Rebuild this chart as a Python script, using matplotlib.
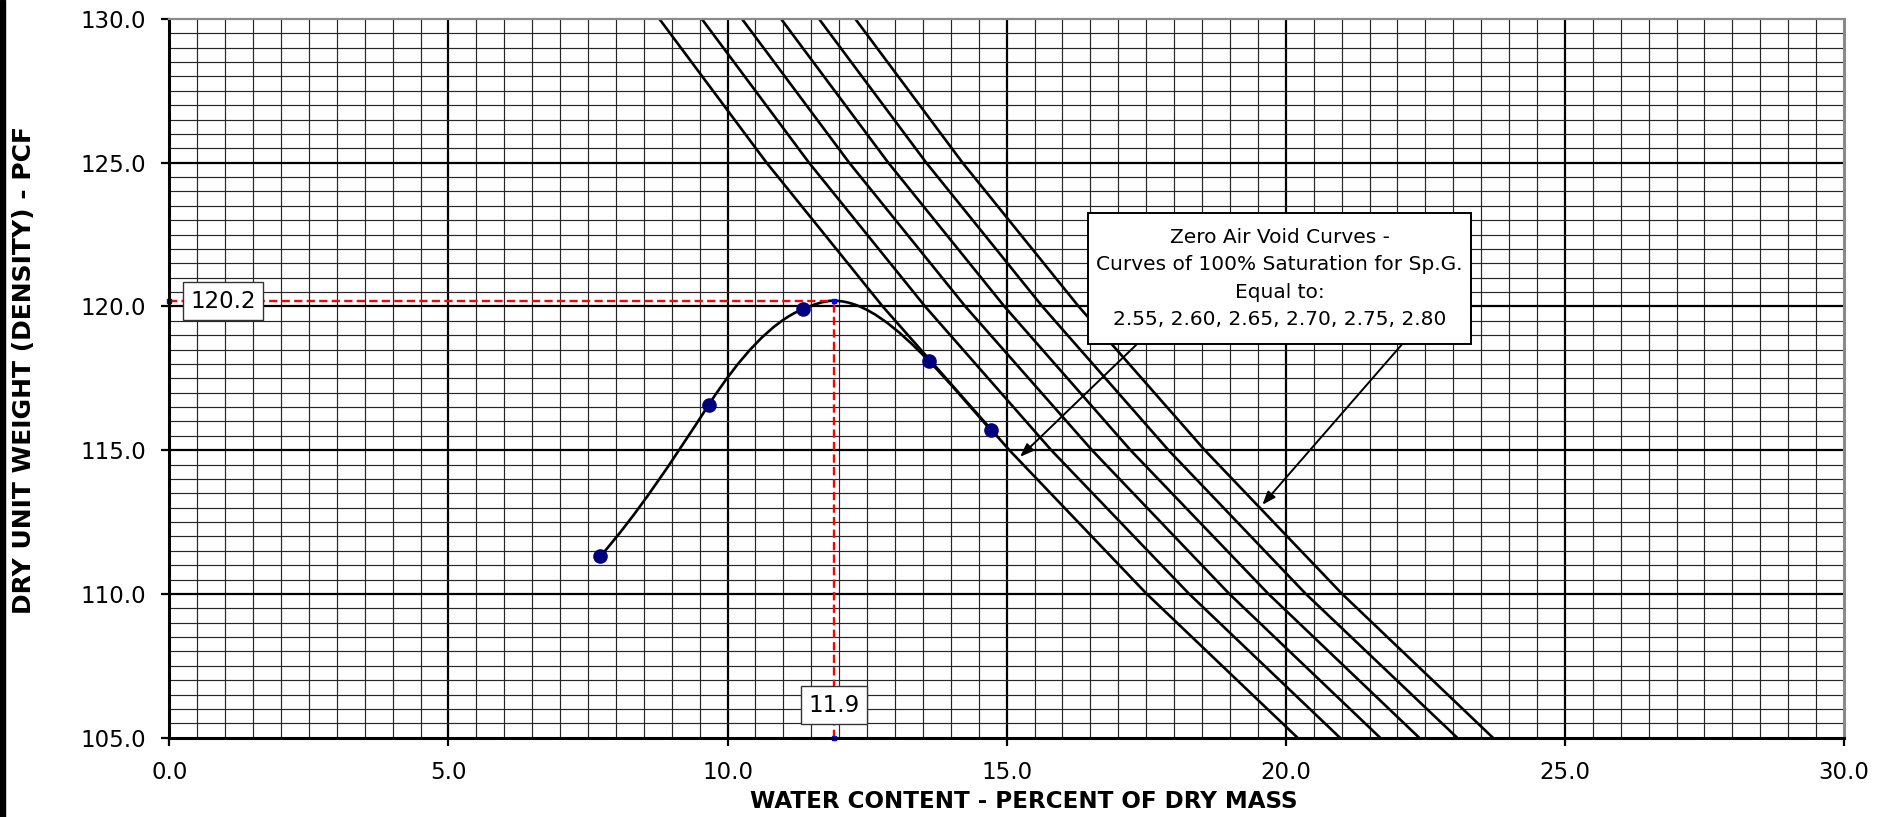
import matplotlib
matplotlib.use("Agg")
import matplotlib.pyplot as plt
from matplotlib.path import Path
from matplotlib.patches import PathPatch, Rectangle
import numpy as np

# test points (water content %, dry unit weight pcf)
water_content = [7.72, 9.66, 11.35, 13.61, 14.72]
dry_density = [111.31, 116.57, 119.91, 118.10, 115.69]

# optimum moisture / max dry density
opt_moisture = 11.9
max_density = 120.2

# curve knots (test points plus the peak) and slopes
curve_x = [7.72, 9.66, 11.35, 11.9, 13.61, 14.72]
curve_y = [111.31, 116.57, 119.91, 120.2, 118.10, 115.69]
curve_slope = [2.2, 3.0, 0.8, 0.0, -2.0, -2.2]

# zero air void curves: water content read at each density level
zav_density = [105, 110, 115, 120, 125, 130]
zav_water = {
    "2.55": [20.21, 17.51, 15.05, 12.78, 10.70, 8.78],
    "2.60": [20.97, 18.27, 15.80, 13.54, 11.46, 9.54],
    "2.65": [21.69, 18.99, 16.53, 14.26, 12.18, 10.26],
    "2.70": [22.39, 19.69, 17.22, 14.96, 12.88, 10.96],
    "2.75": [23.07, 20.36, 17.90, 15.64, 13.56, 11.64],
    "2.80": [23.71, 21.01, 18.55, 16.29, 14.21, 12.29],
}

x_ticks = [0, 5, 10, 15, 20, 25, 30]
y_ticks = [105, 110, 115, 120, 125, 130]

note = ("Zero Air Void Curves -\n"
        "Curves of 100% Saturation for Sp.G.\n"
        "Equal to:\n"
        "2.55, 2.60, 2.65, 2.70, 2.75, 2.80")

plt.rcParams['font.family'] = ['DejaVu Sans']

fig = plt.figure(figsize=(18.85, 8.17), dpi=100)
ax = fig.add_axes([169.3 / 1885, 79.3 / 817, 1674.7 / 1885, 718.7 / 817])

# left black strip of the screenshot
fig.patches.append(Rectangle((0, 0), 4.5 / 1885, 1, transform=fig.transFigure,
                             color='black', zorder=10))

ax.set_xlim(0, 30)
ax.set_ylim(105, 130)

# grid
for v in np.arange(0.5, 30, 0.5):
    major = abs(v % 5) < 1e-9
    ax.axvline(v, color='black' if major else '#262626', lw=1.6 if major else 0.85, zorder=1)
for v in np.arange(105.5, 130, 0.5):
    major = abs(v % 5) < 1e-9
    ax.axhline(v, color='black' if major else '#262626', lw=1.6 if major else 0.85, zorder=1)

# zero air void lines
for gs, ws in zav_water.items():
    ax.plot(ws, zav_density, color='black', lw=1.9, zorder=3)

# smooth compaction curve (cubic bezier through knots)
verts = [(curve_x[0], curve_y[0])]
codes = [Path.MOVETO]
for i in range(len(curve_x) - 1):
    h = curve_x[i + 1] - curve_x[i]
    verts.append((curve_x[i] + h / 3, curve_y[i] + curve_slope[i] * h / 3))
    verts.append((curve_x[i + 1] - h / 3, curve_y[i + 1] - curve_slope[i + 1] * h / 3))
    verts.append((curve_x[i + 1], curve_y[i + 1]))
    codes += [Path.CURVE4] * 3
ax.add_patch(PathPatch(Path(verts, codes), fill=False, edgecolor='black', lw=1.9, zorder=4))

ax.plot(water_content, dry_density, 'o', color='#00007f', ms=9.5, zorder=5)

# optimum lines
ax.plot([0, opt_moisture], [max_density, max_density], color='red', lw=1.7,
        ls=(0, (3.5, 1.8)), zorder=4)
ax.plot([opt_moisture, opt_moisture], [105, max_density], color='red', lw=1.7,
        ls=(0, (3.5, 1.8)), zorder=4)
ax.plot([0, opt_moisture, opt_moisture], [max_density, 105, max_density], 's',
        color='blue', ms=3.5, zorder=6, clip_on=False)

label_box = dict(boxstyle='square,pad=0.32', fc='white', ec='#333333', lw=1)
ax.text(0.96, max_density - 0.02, f"{max_density:.1f}", fontsize=16.5, ha='center', va='center',
        bbox=label_box, zorder=7)
ax.text(opt_moisture, 106.13, f"{opt_moisture:.1f}", fontsize=16.5, ha='center', va='center',
        bbox=label_box, zorder=7)

# note box and arrows
ax.annotate("", xy=(15.24, 114.77), xytext=(17.34, 118.7),
            arrowprops=dict(arrowstyle='-|>,head_length=0.8,head_width=0.3', color='black',
                            lw=1.4, shrinkA=0, shrinkB=0), zorder=6)
ax.annotate("", xy=(19.58, 113.1), xytext=(22.09, 118.7),
            arrowprops=dict(arrowstyle='-|>,head_length=0.8,head_width=0.3', color='black',
                            lw=1.4, shrinkA=0, shrinkB=0), zorder=6)
ax.add_patch(Rectangle((16.46, 118.70), 23.31 - 16.46, 123.25 - 118.70, fc='white',
                       ec='black', lw=1.4, zorder=8))
ax.text(19.89, 120.97, note, fontsize=14.5, ha='center', va='center', linespacing=1.55,
        zorder=8.5)

# axes styling
ax.set_xticks(x_ticks)
ax.set_xticklabels([f"{t:.1f}" for t in x_ticks])
ax.set_yticks(y_ticks)
ax.set_yticklabels([f"{t:.1f}" for t in y_ticks])
ax.tick_params(axis='both', length=6, width=1.6, pad=11, labelsize=16.5, direction='out')
for side in ['left', 'bottom']:
    ax.spines[side].set_linewidth(2.2)
    ax.spines[side].set_color('black')
for side in ['top', 'right']:
    ax.spines[side].set_color('#8a8a8a')
ax.spines['top'].set_linewidth(1.6)
ax.spines['right'].set_linewidth(2.2)
for s in ax.spines.values():
    s.set_zorder(9)

fig.text(1024 / 1885, 1 - 802 / 817, "WATER CONTENT - PERCENT OF DRY MASS", fontsize=16.6,
         fontweight='bold', ha='center', va='center')
fig.text(24 / 1885, 1 - 370 / 817, "DRY UNIT WEIGHT (DENSITY) - PCF", fontsize=18,
         fontweight='bold', ha='center', va='center', rotation=90)

fig.savefig("out.png", dpi=100)
